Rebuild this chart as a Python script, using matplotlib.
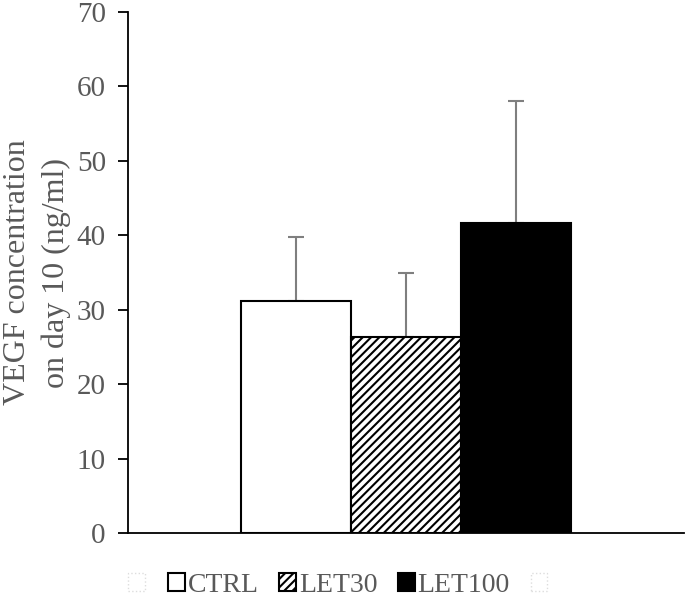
import matplotlib.pyplot as plt
from matplotlib.patches import Patch

plt.rcParams['font.family'] = ['Liberation Serif', 'DejaVu Serif']
plt.rcParams['hatch.linewidth'] = 1.5

groups = ["CTRL", "LET30", "LET100"]
means = [31.2, 26.3, 41.6]
errors = [8.6, 8.7, 16.4]
fills = ["white", "white", "black"]
hatches = ["", "////", ""]

text_color = "#595959"

fig = plt.figure(figsize=(6.85, 5.99), dpi=100)
ax = fig.add_axes([0.187, 0.110, 0.811, 0.870])

width = 0.198
offsets = [-width, 0, width]
for off, m, e, fc, h in zip(offsets, means, errors, fills, hatches):
    ax.bar(off, m, width=width, color=fc, edgecolor="black", linewidth=1.5,
           hatch=h, zorder=2)
    ax.errorbar(off, m, yerr=[[0], [e]], color="#7f7f7f", elinewidth=1.5,
                capsize=6, capthick=1.5, zorder=1)

ax.set_xlim(-0.5, 0.5)
ax.set_ylim(0, 70)
ax.set_yticks(range(0, 71, 10))
ax.set_xticks([])
for s in ["top", "right"]:
    ax.spines[s].set_visible(False)
ax.spines["left"].set_linewidth(1.3)
ax.spines["bottom"].set_linewidth(1.3)
ax.tick_params(axis="y", labelsize=21, labelcolor=text_color, color="black",
               length=7, width=1.3, pad=9)
ax.set_ylabel("VEGF concentration\non day 10 (ng/ml)", fontsize=23,
              color=text_color, labelpad=4, linespacing=1.42)

handles = [Patch(facecolor="none", edgecolor="#dddddd", linestyle=":", linewidth=1)]
labels = [""]
for g, fc, h in zip(groups, fills, hatches):
    handles.append(Patch(facecolor=fc, edgecolor="black", hatch=h, linewidth=1.5))
    labels.append(g)
handles.append(Patch(facecolor="none", edgecolor="#dddddd", linestyle=":", linewidth=1))
labels.append("")

leg = fig.legend(handles, labels, loc="lower center", ncol=5, frameon=False,
                 fontsize=20, bbox_to_anchor=(0.495, -0.040), handlelength=0.6,
                 handleheight=0.6, handletextpad=0.1, columnspacing=0.75)
for t in leg.get_texts():
    t.set_color(text_color)

fig.savefig("out.png", dpi=100)
